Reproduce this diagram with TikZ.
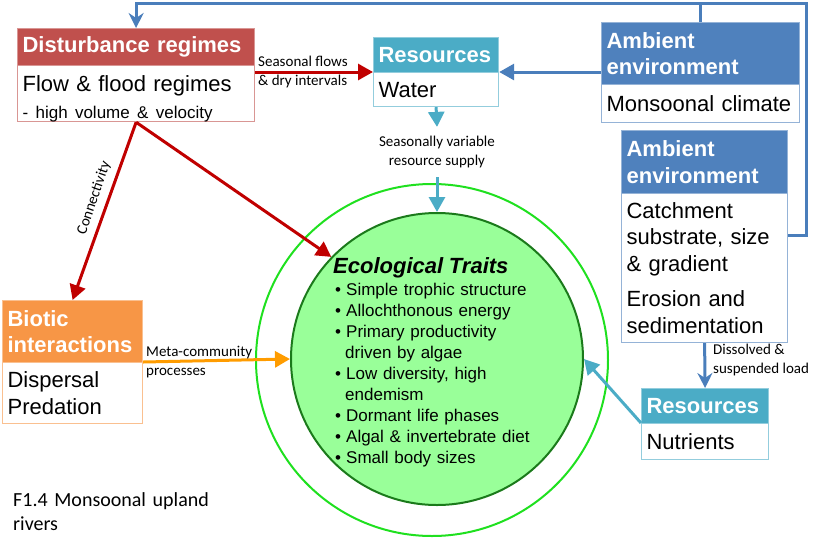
\documentclass[tikz,border=0pt]{standalone}
\usepackage{fontspec}
\setmainfont{Liberation Sans}
\newfontfamily\calfont{Carlito}
\usetikzlibrary{arrows.meta,calc}
\definecolor{redh}{HTML}{C0504D}
\definecolor{redb}{HTML}{D99694}
\definecolor{tealh}{HTML}{4BACC6}
\definecolor{tealb}{HTML}{93CDDD}
\definecolor{blueh}{HTML}{4F81BD}
\definecolor{blueb}{HTML}{95B3D7}
\definecolor{orangeh}{HTML}{F79646}
\definecolor{orangeb}{HTML}{FAC090}
\definecolor{redarrc}{HTML}{C00000}
\definecolor{bluearrc}{HTML}{4A7EBB}
\definecolor{orangearrc}{HTML}{FF9C00}
\definecolor{outerg}{HTML}{1FE01F}
\definecolor{innerg}{HTML}{1B7A1B}
\definecolor{innerf}{HTML}{99FF99}
\begin{document}
\begin{tikzpicture}[x=1pt,y=-1pt,
  hdr/.style={anchor=north west, inner xsep=5pt, inner ysep=0pt, align=left, text=white, line width=1.2pt,
    font=\fontsize{22}{26.5}\selectfont\bfseries},
  bdy/.style={anchor=north west, inner xsep=5pt, inner ysep=0pt, align=left, fill=white, line width=1.2pt,
    font=\fontsize{22}{26.5}\selectfont},
  lbl/.style={font=\calfont\fontsize{15}{19}\selectfont, inner sep=1pt},
  tri/.style={-{Triangle[length=15pt,width=16pt]}},
  stl/.style={-{Stealth[length=15pt,width=15pt,inset=5pt]}},
  redarr/.style={tri, line width=3pt, draw=redarrc},
  bluearr/.style={tri, line width=3pt, draw=bluearrc},
  bluestl/.style={stl, line width=3pt, draw=bluearrc},
  tealarr/.style={tri, line width=3pt, draw=tealh},
  orangearr/.style={tri, line width=3pt, draw=orangearrc},
]
\useasboundingbox (0,0) rectangle (828,547);

% circles
\node[circle, draw=outerg, line width=2pt, minimum size=352pt, inner sep=0pt] (outer) at (432,360) {};
\node[circle, draw=innerg, fill=innerf, line width=2pt, minimum size=292pt, inner sep=0pt] (eco) at (437,359) {};
\node[anchor=base west, align=left, text width=240pt, inner sep=0pt, font=\fontsize{17}{21.1}\selectfont] (ecot) at (333,273)
{{\fontsize{22}{22}\selectfont\bfseries\itshape Ecological Traits}\\[0.9pt]
\hspace*{2pt}\makebox[11pt][l]{•}Simple trophic structure\\
\hspace*{2pt}\makebox[11pt][l]{•}Allochthonous energy\\
\hspace*{2pt}\makebox[11pt][l]{•}Primary productivity\\
\hspace*{12pt}driven by algae\\
\hspace*{2pt}\makebox[11pt][l]{•}Low diversity, high\\
\hspace*{12pt}endemism\\
\hspace*{2pt}\makebox[11pt][l]{•}Dormant life phases\\
\hspace*{2pt}\makebox[11pt][l]{•}Algal \& invertebrate diet\\
\hspace*{2pt}\makebox[11pt][l]{•}Small body sizes};

% boxes
\node[hdr, fill=redh, draw=redb, text width=227pt, minimum height=37pt] (dh) at (17,28) {Disturbance regimes};
\node[bdy, draw=redb, text width=227pt, minimum height=52pt] (db) at (17,65)
  {\rule{0pt}{26pt}Flow \& flood regimes\\\fontsize{17}{21}\selectfont - high volume \& velocity};

\node[hdr, fill=tealh, draw=tealb, text width=115pt, minimum height=35pt] (wh) at (373,37) {Resources};
\node[bdy, draw=tealb, text width=115pt, minimum height=34pt] (wb) at (373,72) {Water};

\node[hdr, fill=blueh, draw=blueb, text width=188pt, minimum height=62pt] (a1h) at (601,22) {Ambient\\environment};
\node[bdy, draw=blueb, text width=188pt, minimum height=38pt] (a1b) at (601,84) {Monsoonal climate};

\node[hdr, fill=blueh, draw=blueb, text width=156pt, minimum height=63pt] (a2h) at (621,130) {Ambient\\environment};
\node[bdy, draw=blueb, text width=156pt, minimum height=149pt] (a2b) at (621,193)
  {Catchment\\substrate, size\\\& gradient\\[9pt]Erosion and\\sedimentation};

\node[hdr, fill=tealh, draw=tealb, text width=117pt, minimum height=35pt] (nh) at (641,388) {Resources};
\node[bdy, draw=tealb, text width=117pt, minimum height=36pt] (nb) at (641,423) {Nutrients};

\node[hdr, fill=orangeh, draw=orangeb, text width=130pt, minimum height=62pt] (bh) at (2,300) {Biotic\\interactions};
\node[bdy, draw=orangeb, text width=130pt, minimum height=61pt] (bb) at (2,362) {Dispersal\\Predation};

% top loop
\coordinate (tr) at (806,3);
\draw[bluestl, line join=miter] ([yshift=32.5pt]a2b.east) -| (tr) -| (dh.north);
\draw[line width=3pt, draw=bluearrc] (a1h.north) -- (a1h.north |- tr);

% connectors
\draw[redarr] (db.east |- wb.north west) -- (wb.north west);
\node[lbl, anchor=west, align=left] (sfl) at (257,72) {Seasonal flows\\\& dry intervals};

\draw[bluearr] (a1h.west |- wb.north east) -- (wb.north east);

\node[lbl, align=center, inner xsep=1pt, inner ysep=9pt] (svl) at (437,152) {Seasonally variable\\resource supply};
\draw[tealarr] (wb.south) -- (svl.north);
\draw[tealarr] (svl.south) -- (eco.north);

\draw[redarr] (db.south) -- (eco.136);
\draw[redarr] (db.south) -- (bh.north);
\node[lbl, rotate=71] (conn) at (94,198) {Connectivity};

\draw[orangearr] (bb.north east) -- (eco.west);
\node[lbl, anchor=west, align=left] (mcl) at (145,362) {Meta-community\\processes};

\draw[bluestl] (a2b.south) -- (nh.north);
\node[lbl, anchor=west, align=left] (dsl) at (712,360) {Dissolved \&\\suspended load};

\draw[tealarr] (nb.north west) -- (eco.east);

\node[anchor=base west, align=left, text width=220pt, inner sep=0pt, font=\calfont\fontsize{20}{24}\selectfont] (cap) at (13,506)
  {F1.4 Monsoonal upland\\rivers};
\end{tikzpicture}
\end{document}
